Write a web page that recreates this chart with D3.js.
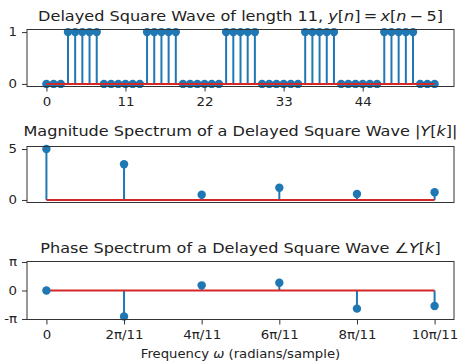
<!DOCTYPE html>
<html><head><meta charset="utf-8">
<script src="https://cdn.jsdelivr.net/npm/d3@7"></script>
<style>
body{margin:0;background:#fff;}
svg{display:block;font-family:"DejaVu Sans",sans-serif;}
</style></head><body>
<svg id="c" width="458" height="361"></svg>
<script>
// ---- data ----
const squareValues = [0,0,0,1,1,1,1,1,0,0,0, 0,0,0,1,1,1,1,1,0,0,0, 0,0,0,1,1,1,1,1,0,0,0, 0,0,0,1,1,1,1,1,0,0,0, 0,0,0,1,1,1,1,1,0,0,0];
const sampleTicks = [0, 11, 22, 33, 44];
const freqIndex = [0, 1, 2, 3, 4, 5];
const freqLabels = ["0", "2π/11", "4π/11", "6π/11", "8π/11", "10π/11"];
const magnitude = [5.0, 3.51, 0.52, 1.20, 0.59, 0.76];
const phase = [0, -2.86, 0.57, 0.86, -2.00, -1.71];
const squareTicks = [0, 1];
const magTicks = [0, 5];
const phaseTicks = [-Math.PI, 0, Math.PI];
const phaseTickLabels = ["-π", "0", "π"];

const BLUE = "#1f77b4", RED = "#d62728", INK = "#222";
const SX = 1.15;               // horizontal stretch of the reference text
const TITLE_FS = 14, TICK_FS = 11.6, LABEL_FS = 11.5;
const svg = d3.select("#c");
const L = 27, R = 454;

function title(y, segs) {
  const t = svg.append("text").attr("transform", `translate(${(L + R) / 2},${y}) scale(${SX},1)`)
    .attr("text-anchor", "middle").attr("font-size", TITLE_FS).attr("fill", INK);
  segs.forEach(s => t.append("tspan").text(s[0]).attr("font-style", s[1] ? "italic" : "normal"));
}

function frame(top, bottom) {
  svg.append("rect").attr("x", L).attr("y", top).attr("width", R - L).attr("height", bottom - top)
    .attr("fill", "none").attr("stroke", "#333").attr("stroke-width", 1);
}

function styleAxis(g) {
  g.select(".domain").remove();
  g.selectAll(".tick line").attr("stroke", "#333");
  g.selectAll(".tick text").attr("fill", INK).attr("font-size", TICK_FS).attr("font-family", "DejaVu Sans")
    .each(function () {
      const t = d3.select(this);
      t.attr("x", (+t.attr("x") || 0) / SX).attr("transform", `scale(${SX},1)`);
    });
}

function stems(g, xs, ys, x, y, baseOnTop) {
  const pts = ys.map((v, i) => [xs[i], v]);
  g.selectAll(null).data(pts).enter().append("line")
    .attr("x1", d => x(d[0])).attr("x2", d => x(d[0]))
    .attr("y1", y(0)).attr("y2", d => y(d[1]))
    .attr("stroke", BLUE).attr("stroke-width", 2);
  const base = () => g.append("line").attr("x1", x(xs[0])).attr("x2", x(xs[xs.length - 1]))
    .attr("y1", y(0)).attr("y2", y(0)).attr("stroke", RED).attr("stroke-width", 2);
  if (!baseOnTop) base();
  g.selectAll(null).data(pts).enter().append("circle")
    .attr("cx", d => x(d[0])).attr("cy", d => y(d[1])).attr("r", 4.2).attr("fill", BLUE);
  if (baseOnTop) base();
}

// ---- panel 1 ----
{
  const top = 29.5, bot = 86.5;
  const idx = squareValues.map((_, i) => i);
  const x = d3.scaleLinear().domain([-2.7, 56.7]).range([L, R]);
  const y = d3.scaleLinear().domain([-0.05, 1.05]).range([bot, top]);
  title(21, [["Delayed Square Wave of length 11, ", 0], ["y", 1], ["[", 0], ["n", 1], ["]\u2009=\u2009", 0], ["x", 1], ["[", 0], ["n", 1], ["\u2009−\u20095]", 0]]);
  const g = svg.append("g");
  stems(g, idx, squareValues, x, y, true);
  frame(top, bot);
  svg.append("g").attr("transform", `translate(0,${bot})`)
    .call(d3.axisBottom(x).tickValues(sampleTicks).tickSize(5).tickPadding(6.5)).call(styleAxis);
  svg.append("g").attr("transform", `translate(${L},0)`)
    .call(d3.axisLeft(y).tickValues(squareTicks).tickFormat(d3.format("d")).tickSize(5).tickPadding(5)).call(styleAxis);
}

// ---- panel 2 ----
{
  const top = 146.5, bot = 202.5;
  const x = d3.scaleLinear().domain([-0.25, 5.25]).range([L, R]);
  const y = d3.scaleLinear().domain([-0.25, 5.25]).range([bot, top]);
  title(136, [["Magnitude Spectrum of a Delayed Square Wave |", 0], ["Y", 1], ["[", 0], ["k", 1], ["]|", 0]]);
  const g = svg.append("g");
  stems(g, freqIndex, magnitude, x, y, false);
  frame(top, bot);
  svg.append("g").attr("transform", `translate(${L},0)`)
    .call(d3.axisLeft(y).tickValues(magTicks).tickFormat(d3.format("d")).tickSize(5).tickPadding(5)).call(styleAxis);
}

// ---- panel 3 ----
{
  const top = 261.5, bot = 319.5;
  const x = d3.scaleLinear().domain([-0.25, 5.25]).range([L, R]);
  const y = d3.scaleLinear().domain([-3.2, 3.2]).range([bot, top]);
  title(253, [["Phase Spectrum of a Delayed Square Wave ∠", 0], ["Y", 1], ["[", 0], ["k", 1], ["]", 0]]);
  const g = svg.append("g");
  stems(g, freqIndex, phase, x, y, false);
  frame(top, bot);
  svg.append("g").attr("transform", `translate(0,${bot})`)
    .call(d3.axisBottom(x).tickValues(freqIndex).tickFormat((d, i) => freqLabels[i]).tickSize(5).tickPadding(6.5)).call(styleAxis);
  svg.append("g").attr("transform", `translate(${L},0)`)
    .call(d3.axisLeft(y).tickValues(phaseTicks).tickFormat((d, i) => phaseTickLabels[i]).tickSize(5).tickPadding(5)).call(styleAxis);
  const xl = svg.append("text").attr("transform", `translate(${(L + R) / 2},358) scale(${SX},1)`)
    .attr("text-anchor", "middle").attr("font-size", LABEL_FS).attr("fill", INK);
  xl.append("tspan").text("Frequency ");
  xl.append("tspan").text("ω").attr("font-style", "italic");
  xl.append("tspan").text(" (radians/sample)");
}
</script></body></html>
